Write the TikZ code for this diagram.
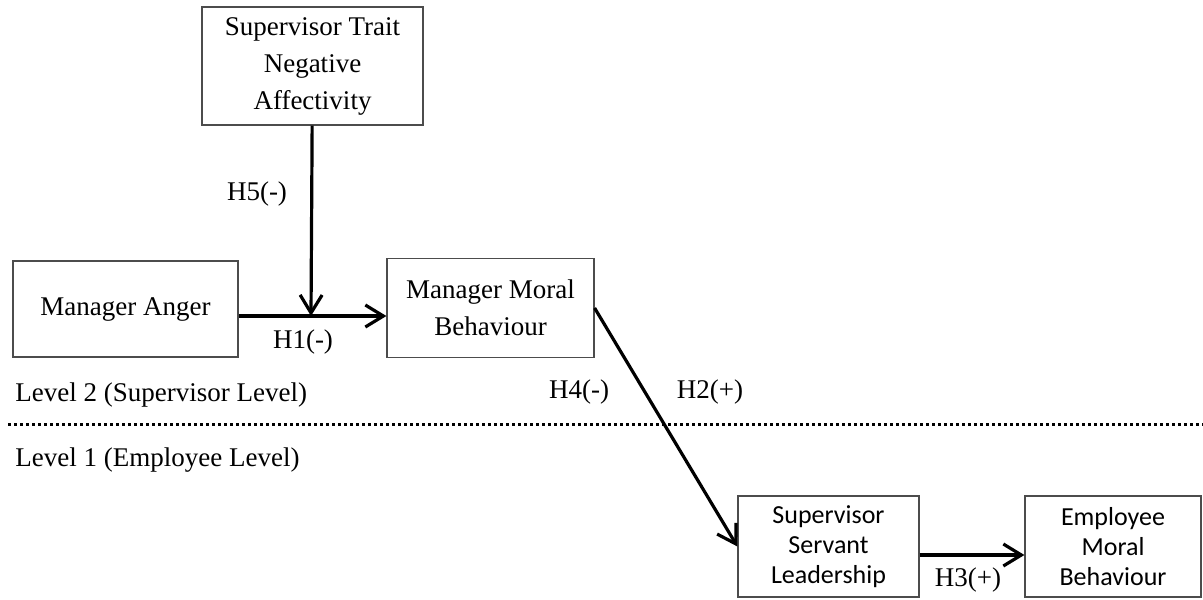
\documentclass[tikz,border=0pt]{standalone}
\usepackage{fontspec}
\setmainfont{Liberation Serif}
\newfontfamily\carlito{Carlito}
\usetikzlibrary{arrows.meta}

\begin{document}
\begin{tikzpicture}[x=0.5pt,y=-0.5pt,
    box/.style={draw=black!70, line width=0.6pt, align=center, inner sep=0pt,
        font=\fontsize{13.5}{18.5}\selectfont},
    sbox/.style={box, font=\carlito\fontsize{13}{15}\selectfont},
    arr/.style={line width=1.6pt, -{Straight Barb[length=9pt,width=11pt]}},
    lbl/.style={inner sep=0pt, font=\fontsize{13.5}{16}\selectfont}]

    \useasboundingbox (0,0) rectangle (1203,599);

    % level 2
    \node[box, minimum width=110.5pt, minimum height=59pt] (trait) at (312.5,66) {Supervisor Trait\\Negative\\Affectivity};
    \node[box, minimum width=112.5pt, minimum height=48pt] (anger) at (125.5,309) {Manager Anger};
    \node[box, minimum width=103.5pt, minimum height=49.5pt] (mmb) at (490.5,308) {Manager Moral\\Behaviour};
    \coordinate (meet) at (311,316);

    % level 1
    \node[sbox, minimum width=90.5pt, minimum height=50.5pt] (ssl) at (828.5,546.5) {Supervisor\\Servant\\Leadership};
    \node[sbox, minimum width=88pt, minimum height=50.5pt] (emb) at (1113,546.5) {Employee\\Moral\\Behaviour};

    % arrows
    \draw[arr] (trait) -- (meet);
    \draw[arr] (anger.east |- meet) -- (mmb.west |- meet);
    \draw[arr] (mmb.east) -- (ssl.west);
    \draw[arr] ([yshift=-4.25pt]ssl.east) -- ([yshift=-4.25pt]ssl.east -| emb.west);

    % hypotheses
    \node[lbl] (hfive) at (257,194) {H5(-)};
    \node[lbl] (hone) at (303,342) {H1(-)};
    \node[lbl] (hfour) at (579,392) {H4(-)};
    \node[lbl] (htwo) at (710,392) {H2(+)};
    \node[lbl] (hthree) at (968,580) {H3(+)};

    % levels
    \coordinate (sepl) at (8,424);
    \coordinate (sepr) at (1203,424);
    \draw[line width=1.5pt, dash pattern=on 1.5pt off 1.5pt] (sepl) -- (sepr);
    \node[lbl, anchor=west] (lvtwo) at (15,395) {Level 2 (Supervisor Level)};
    \node[lbl, anchor=west] (lvone) at (15,460) {Level 1 (Employee Level)};

\end{tikzpicture}
\end{document}
